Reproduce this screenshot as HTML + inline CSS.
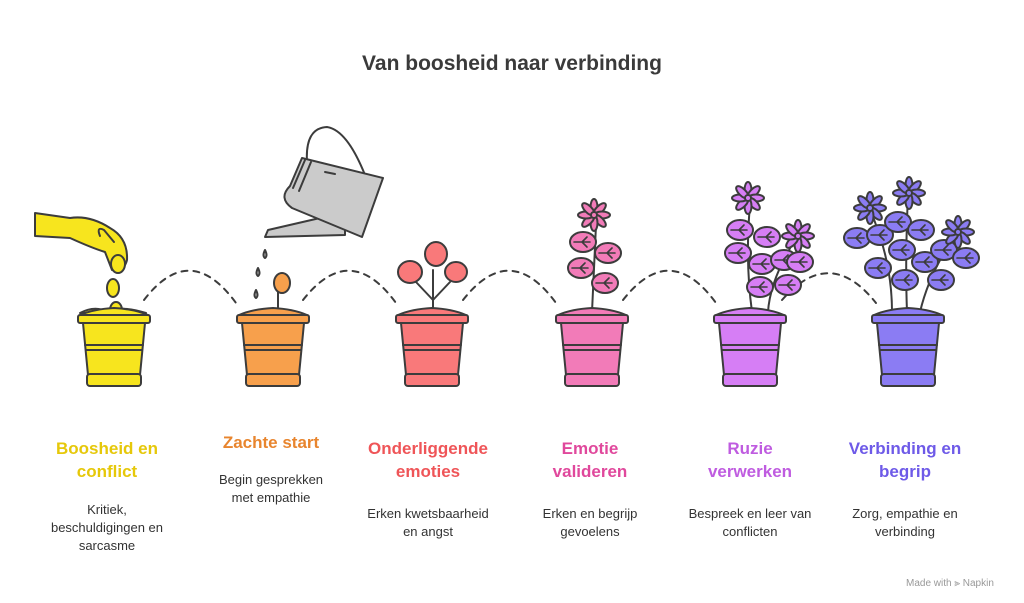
<!DOCTYPE html>
<html><head><meta charset="utf-8"><style>
html,body{margin:0;padding:0;background:#fff;}
body{width:1024px;height:603px;position:relative;overflow:hidden;font-family:"Liberation Sans",sans-serif;}
.t{position:absolute;font-weight:bold;font-size:17px;line-height:23px;text-align:center;width:180px;}
.d{position:absolute;font-size:13px;line-height:18px;text-align:center;width:180px;color:#333;}
</style></head><body>
<svg width="1024" height="603" style="position:absolute;left:0;top:0" stroke="#3c3c3c" stroke-width="2" stroke-linejoin="round" stroke-linecap="round">
<text x="512" y="70" text-anchor="middle" font-family="Liberation Sans" font-weight="bold" font-size="21" fill="#3a3a3a" stroke="none">Van boosheid naar verbinding</text>
<g fill="none" stroke-dasharray="6,6">
<path d="M144,300 Q190,240 236,303"/>
<path d="M303,300 Q350,240 396,303"/>
<path d="M463,300 Q510,240 556,303"/>
<path d="M623,300 Q670,240 716,303"/>
<path d="M782,300 Q830,245 876,303"/>
</g>
<defs>
<g id="pot">
<path d="M-34,0 Q-20,-6 0,-7 Q20,-6 34,0 Z"/>
<rect x="-36" y="0" width="72" height="8" rx="2"/>
<path d="M-31,8 L31,8 L26,60 L-26,60 Z"/>
<line x1="-29" y1="30" x2="29" y2="30"/>
<line x1="-28" y1="35" x2="28" y2="35"/>
<rect x="-27" y="59" width="54" height="12" rx="3"/>
</g>
<g id="leaf"><ellipse cx="0" cy="0" rx="13" ry="10"/><path d="M-9,0 L7,0 M-1,0 L4,-5 M-1,0 L4,5" fill="none" stroke-width="1.6"/></g>
<g id="flw"><ellipse rx="3.5" ry="8" cy="-8"/><ellipse rx="3.5" ry="8" cy="-8" transform="rotate(45)"/><ellipse rx="3.5" ry="8" cy="-8" transform="rotate(90)"/><ellipse rx="3.5" ry="8" cy="-8" transform="rotate(135)"/><ellipse rx="3.5" ry="8" cy="-8" transform="rotate(180)"/><ellipse rx="3.5" ry="8" cy="-8" transform="rotate(225)"/><ellipse rx="3.5" ry="8" cy="-8" transform="rotate(270)"/><ellipse rx="3.5" ry="8" cy="-8" transform="rotate(315)"/><circle r="3"/></g>
</defs>
<!-- pot 1 -->
<g fill="#f7e51e">
<path d="M35,213 L70,218 Q90,215 110,228 Q128,238 127,260 Q124,272 112,270 L105,252 Q92,248 70,238 L35,236 Z"/>
<path d="M100,236 Q96,226 104,230 L114,242" fill="none"/>
<ellipse cx="118" cy="264" rx="7" ry="9"/>
<ellipse cx="113" cy="288" rx="6" ry="9"/>
<ellipse cx="116" cy="310" rx="6" ry="8"/>
<path d="M80,313 Q95,305 108,312 Q120,305 146,313 Z"/>
<use href="#pot" x="114" y="315"/>
</g>
<!-- pot 2 -->
<g fill="#cbcbcb">
<path d="M307,162 Q305,128 327,127 Q347,130 365,175" fill="none"/>
<path d="M268,230 L320,218 L345,228 L345,235 L265,237 Z"/>
<path d="M302,158 L383,178 L362,237 L292,208 Q278,198 290,186 Z"/>
<path d="M293,188 L305,160 M299,191 L311,162" fill="none"/>
<line x1="325" y1="172" x2="335" y2="174"/>
<path d="M265,250 q-3,6 0,8 q3,-2 0,-8Z M258,268 q-3,6 0,8 q3,-2 0,-8Z M256,290 q-3,6 0,8 q3,-2 0,-8Z"/>
</g>
<g fill="#f7a04c">
<path d="M278,311 L278,290" fill="none"/>
<ellipse cx="282" cy="283" rx="8" ry="10"/>
<use href="#pot" x="273" y="315"/>
</g>
<!-- pot 3 -->
<g fill="#f9797a">
<path d="M433,312 L433,270 M433,300 L416,282 M433,300 L450,282" fill="none"/>
<ellipse cx="436" cy="254" rx="11" ry="12"/>
<ellipse cx="410" cy="272" rx="12" ry="11"/>
<ellipse cx="456" cy="272" rx="11" ry="10"/>
<use href="#pot" x="432" y="315"/>
</g>
<!-- pot 4 -->
<g fill="#f27bb8">
<path d="M592,312 L596,225" fill="none"/>
<use href="#leaf" x="583" y="242"/><use href="#leaf" x="608" y="253"/>
<use href="#leaf" x="581" y="268"/><use href="#leaf" x="605" y="283"/>
<use href="#flw" x="594" y="215"/>
<use href="#pot" x="592" y="315"/>
</g>
<!-- pot 5 -->
<g fill="#d67ef5">
<path d="M752,312 Q745,260 750,205 M768,312 Q770,280 795,240" fill="none"/>
<use href="#leaf" x="740" y="230"/><use href="#leaf" x="767" y="237"/>
<use href="#leaf" x="738" y="253"/><use href="#leaf" x="762" y="264"/>
<use href="#leaf" x="760" y="287"/><use href="#leaf" x="784" y="260"/>
<use href="#leaf" x="800" y="262"/><use href="#leaf" x="788" y="285"/>
<use href="#flw" x="748" y="198"/><use href="#flw" x="798" y="236"/>
<use href="#pot" x="750" y="315"/>
</g>
<!-- pot 6 -->
<g fill="#8b7cf3">
<path d="M892,312 Q892,260 870,210 M907,312 Q905,260 908,195 M920,312 Q930,270 958,232" fill="none"/>
<use href="#leaf" x="857" y="238"/><use href="#leaf" x="880" y="235"/>
<use href="#leaf" x="878" y="268"/><use href="#leaf" x="898" y="222"/>
<use href="#leaf" x="902" y="250"/><use href="#leaf" x="921" y="230"/>
<use href="#leaf" x="905" y="280"/><use href="#leaf" x="925" y="262"/>
<use href="#leaf" x="944" y="250"/><use href="#leaf" x="941" y="280"/>
<use href="#leaf" x="966" y="258"/>
<use href="#flw" x="870" y="208"/><use href="#flw" x="909" y="193"/><use href="#flw" x="958" y="232"/>
<use href="#pot" x="908" y="315"/>
</g>
</svg>
<div class="t" style="left:17px;top:437px;color:#e6c80a">Boosheid en<br>conflict</div>
<div class="d" style="left:17px;top:501px">Kritiek,<br>beschuldigingen en<br>sarcasme</div>
<div class="t" style="left:181px;top:431px;color:#e8852e">Zachte start</div>
<div class="d" style="left:181px;top:471px">Begin gesprekken<br>met empathie</div>
<div class="t" style="left:338px;top:437px;color:#ef5558">Onderliggende<br>emoties</div>
<div class="d" style="left:338px;top:505px">Erken kwetsbaarheid<br>en angst</div>
<div class="t" style="left:500px;top:437px;color:#e0489c">Emotie<br>valideren</div>
<div class="d" style="left:500px;top:505px">Erken en begrijp<br>gevoelens</div>
<div class="t" style="left:660px;top:437px;color:#bf5ce0">Ruzie<br>verwerken</div>
<div class="d" style="left:660px;top:505px">Bespreek en leer van<br>conflicten</div>
<div class="t" style="left:815px;top:437px;color:#6e5ae8">Verbinding en<br>begrip</div>
<div class="d" style="left:815px;top:505px">Zorg, empathie en<br>verbinding</div>
<div style="position:absolute;left:906px;top:578px;font-size:10px;color:#999">Made with ⫸ Napkin</div>
</body></html>
